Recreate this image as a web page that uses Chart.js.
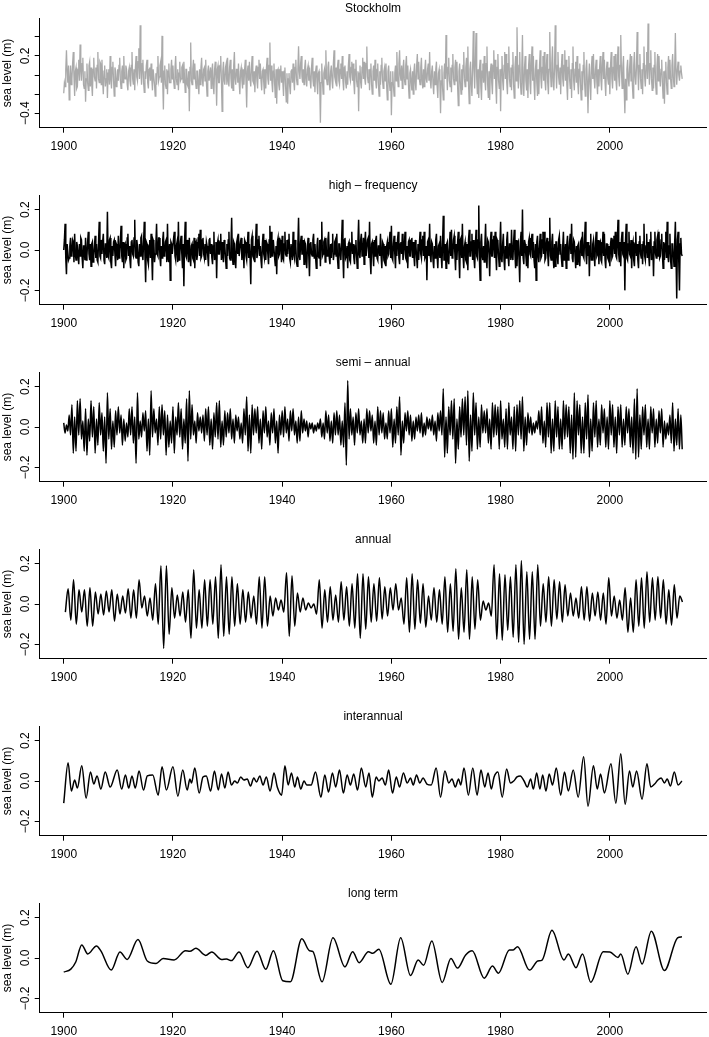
<!DOCTYPE html>
<html>
<head>
<meta charset="utf-8">
<title>Stockholm sea level components</title>
<script src="https://cdn.jsdelivr.net/npm/chart.js@4.4.1/dist/chart.umd.min.js"></script>
<style>
  html, body { margin: 0; padding: 0; background: #fff; }
  body { width: 709px; height: 1037px; overflow: hidden; position: relative; }
  .panel { position: absolute; left: 0; width: 709px; height: 177px; }
</style>
</head>
<body>
<script>
// time axis
const startYear = 1900;
const stepDense = 0.125;   // record and high-frequency: 8 readings per year
const stepSemi = 0.25;     // semi-annual: 4 turning points per year
const xTicks = [1900, 1920, 1940, 1960, 1980, 2000];

// y ticks
const yTicksTop = [-0.4, -0.2, 0, 0.2, 0.4];
const yLabelsTop = ['\u22120.4', '', '', '0.2', ''];
const yTicks = [-0.2, 0, 0.2];
const yLabels = ['\u22120.2', '0.0', '0.2'];

const titles = ['Stockholm', 'high \u2013 frequency', 'semi \u2013 annual', 'annual', 'interannual', 'long term'];

// Stockholm record (cm), 8 per year, one row per decade
const stockholmCm = [
  -19,-8,-12,6,26,4,-8,10, -26,-6,10,-10,-4,12,24,-2, -22,4,8,-14,-12,6,16,-6, 32,6,-6,12,18,-10,-14,4, -28,-4,12,-8,-16,10,14,-12,
  8,-10,-22,6,18,-2,-6,8, -14,10,24,-4,-8,14,12,-10, 16,-6,-20,4,10,-12,-4,6, -24,2,6,-10,20,-4,-14,8, 14,-6,-22,8,4,-12,-10,6,
  -6,10,18,-6,-14,4,10,-8, 20,-2,-4,10,6,-10,-16,4, 8,-6,-12,10,24,-4,-10,6, -16,8,20,-2,-6,14,28,-4, 52,6,-10,12,16,-8,-18,4,
  -4,10,16,-8,-14,6,8,-6, 12,-4,-16,6,6,-10,-22,2, -10,8,20,-6,-2,10,14,-8, 41,-6,-36,4,10,-10,-14,6, -20,4,12,-8,-8,6,16,-4,
  10,-6,-14,8,20,-4,-10,6, -16,2,14,-6,-4,8,10,-8, 14,-4,-18,6,6,-10,-12,4, -38,8,34,-6,-10,6,16,-4, 12,-6,-14,4,4,-10,-20,6,
  -10,8,18,-4,-12,6,8,-6, 16,-8,-22,4,10,-6,-6,8, -14,4,12,-10,-20,6,14,-4, -32,6,10,-8,-8,10,20,-6, -38,4,14,-6,-10,8,12,-10,
  18,-6,-12,8,16,-4,-14,6, -16,10,24,-4,-10,6,6,-8, 12,-8,-20,4,8,-6,-14,6, -10,6,16,-8,-34,4,10,-6, 14,-4,-12,8,20,-6,-8,4,
  -18,4,10,-6,-14,8,16,-4, 12,-6,-16,4,6,-8,-20,6, -14,8,18,-4,-10,10,34,-6, 10,-8,-18,4,12,-10,-24,6, -30,4,6,-10,-16,6,10,-8,
  4,-8,-22,4,8,-12,-28,2, -30,-4,2,-12,-20,4,6,-8, 12,-6,-16,8,16,-4,-10,6, 30,4,-4,12,20,-2,-8,6, -10,8,16,-4,-12,6,10,-6,
  8,-6,-14,8,18,-4,-12,4, -18,4,10,-8,-20,2,4,-10, -50,-8,12,-6,-20,2,6,-4, 26,-4,-10,8,14,-6,-16,4, 10,-6,-14,12,26,-2,-6,8,
  -12,8,16,-6,-10,6,12,-4, 20,-6,-16,8,10,-8,-14,4, -10,10,22,-2,-6,8,14,-6, 12,-8,-20,6,16,-6,-12,4, -38,2,10,-8,-14,8,18,-4,
  14,-4,-10,12,30,-2,-8,6, -16,6,12,-10,-20,4,10,-6, 16,-6,-14,6,12,-10,-22,4, -10,10,18,-6,-14,4,8,-6, 12,-10,-26,4,10,-8,-16,4,
  -42,-8,4,-12,-22,2,10,-6, 24,-2,-12,12,26,0,-6,10, -14,6,16,-4,-10,10,20,-4, 10,-10,-24,2,6,-8,-16,4, -20,4,12,-8,-16,10,22,-4,
  14,-4,-10,8,18,-6,-14,6, -12,6,16,-4,-8,6,12,-6, 24,-6,-14,4,10,-10,-20,4, -10,6,14,-12,-24,2,6,-8, -40,-6,10,-14,-26,2,12,-4,
  42,4,-16,8,18,-6,-12,8, -18,10,22,-4,-10,8,16,-6, 14,-12,-32,4,12,-8,-20,6, -16,10,24,-4,-12,8,18,-6, 30,-10,-30,6,14,-10,-22,8,
  46,6,-14,16,44,-4,-20,6, -24,6,16,-12,-26,4,12,-8, 20,-6,-16,12,30,-10,-24,4, -26,4,12,-8,-20,10,26,-4, 16,-12,-30,8,22,-6,-14,6,
  -38,6,20,-6,-16,10,24,-4, 22,-8,-20,12,30,-4,-12,8, -16,10,24,-10,-24,8,20,-6, 50,6,-14,10,24,-8,-20,6, 42,-8,-22,8,20,-6,-16,6,
  -24,10,22,-8,-20,12,30,-6, 20,-10,-26,6,16,-8,-22,6, -20,10,26,-4,-14,8,20,-6, 24,-6,-16,10,22,-8,-20,6, 45,4,-12,12,30,-4,-16,8,
  52,6,-14,10,24,-2,-10,8, -20,8,22,-4,-12,10,26,-6, 16,-10,-26,8,20,-4,-14,6, -24,12,30,-6,-16,6,14,-8, 20,-8,-20,6,12,-10,-26,4,
  -16,10,24,-8,-22,6,16,-6, -40,-4,12,-10,-26,8,20,-4, 22,-4,-14,6,16,-8,-20,6, -12,8,20,-6,-16,10,24,-4, 16,-8,-22,6,14,-4,-10,8,
  -20,10,24,-4,-14,8,20,-6, 22,-6,-16,12,30,-2,-12,10, 42,4,-14,8,20,-14,-40,-4, -26,6,16,-4,-12,8,22,-6, 20,-10,-24,10,24,-2,-10,8,
  45,6,-16,10,22,-4,-14,6, -20,12,30,-2,-12,10,24,-4, 54,8,-10,12,26,-4,-16,8, -14,10,24,-8,-20,8,22,-6, 20,-2,-12,6,16,-8,-24,4,
  -30,4,14,-8,-20,8,20,-4, 16,-4,-14,10,22,-2,-12,8, 44,4,-10,6,14,0,-6,4, 10,2,-4
];

// high-frequency component (cm), 8 per year
const highFreqCm = [
  0,5,13,-4,-12,3,3,-5, -4,2,6,-3,-2,5,4,-6, 8,-2,-5,4,2,-3,-7,3, -3,6,5,-4,-9,2,2,-5, 6,-5,-3,4,9,-2,-5,3,
  -8,3,4,-6,-3,2,7,-4, 3,-5,-6,4,14,-3,-4,5, -2,4,8,-5,-7,3,3,-4, 19,-3,-4,5,6,-6,-9,2, -3,4,5,-2,-8,3,2,-5,
  7,-4,-2,5,12,-3,-6,4, -9,2,3,-5,-4,6,8,-3, 2,-5,-9,4,5,-2,-3,6, 15,-3,-4,5,2,-6,-8,3, -3,6,7,-2,-5,4,14,-3,
  -16,4,3,-5,-7,2,5,-4, 8,-3,-15,5,4,-6,-2,3, 13,-2,-3,6,6,-4,-8,2, -4,5,9,-3,-2,4,5,-6, 13,-4,-6,3,-15,4,3,-2,
  -2,6,9,-3,-5,2,4,-6, 14,-5,-3,4,7,-2,-9,3, -18,4,14,-3,-4,5,2,-6, 6,-3,-8,2,3,-4,-5,6, -9,3,4,-5,-2,6,8,-3,
  10,-4,-3,5,6,-2,-4,3, -5,4,2,-3,-8,5,6,-2, 3,-4,-7,2,9,-5,-3,4, -14,3,5,-2,-2,4,8,-5, 4,-3,-6,5,2,-4,-9,3,
  -3,5,9,-4,-5,2,16,-3, -7,4,3,-5,-9,3,5,-2, 8,-3,-3,4,6,-5,-2,3, -9,5,4,-3,-5,2,9,-4, 3,-4,-17,5,7,-3,-4,2,
  -6,3,13,-4,-2,5,7,-3, 2,-5,-9,3,8,-2,-4,5, -5,4,3,-2,-7,5,12,-4, 9,-3,-3,5,5,-4,-8,2, -12,4,6,-3,-2,5,4,-6,
  7,-4,-5,3,9,-2,-3,5, -2,5,8,-4,-6,3,3,-5, 9,-2,-4,5,2,-6,-8,3, 16,-3,-5,4,7,-2,-2,5, -7,4,3,-5,-9,2,6,-3,
  -13,3,4,-2,-3,5,8,-4, 3,-4,-9,2,6,-3,-4,5, -8,5,14,-3,-2,4,5,-6, 6,-2,-3,5,9,-4,-7,3, -4,3,8,-5,-2,4,5,-3,
  8,-4,-9,3,3,-2,-5,4, 15,-3,-14,5,6,-4,-3,2, -9,3,4,-5,-6,3,9,-2, 3,-4,-7,2,5,-3,-9,4, 15,-2,-4,5,8,-3,-2,6,
  -7,4,9,-3,-3,5,6,-4, 14,-5,-12,3,4,-2,-8,5, -3,5,7,-4,-5,2,2,-3, 8,-3,-9,4,3,-5,-6,2, -8,2,4,-3,-2,5,9,-4,
  12,-4,-5,3,7,-2,-9,4, -3,5,9,-4,-7,3,4,-2, 8,-5,-2,3,9,-4,-5,2, -9,4,5,-3,-3,5,6,-4, 4,-3,-8,5,2,-4,-9,3,
  -5,3,9,-2,-4,5,7,-3, 9,-4,-3,2,-15,4,5,-3, 13,-3,-6,4,3,-5,-9,2, -4,5,8,-3,-9,2,3,-4, 7,-3,-9,4,17,-5,-5,3,
  -9,3,4,-5,-7,2,9,-3, 10,-4,-3,5,7,-2,-10,3, -5,4,9,-3,-14,5,6,-4, 13,-3,-9,2,4,-5,-6,3, -10,5,10,-3,-3,4,8,-5,
  5,-4,-9,2,10,-3,-4,5, 22,-5,-15,4,8,-3,-5,2, -6,3,13,-4,-9,5,4,-2, -13,4,9,-3,-3,5,7,-4, 9,-2,-10,5,4,-3,-8,3,
  14,-4,-6,3,8,-5,-10,2, -4,5,9,-3,-8,3,3,-5, 10,-3,-5,4,10,-2,-9,5, -8,3,4,-5,-16,4,9,-3, 20,-4,-7,5,3,-3,-8,2,
  -9,4,6,-2,-3,5,8,-4, 4,-5,-9,3,-15,4,7,-3, -6,2,8,-4,-3,5,9,-2, 9,-5,-4,3,6,-2,-8,4, 16,-3,-5,4,8,-4,-9,3,
  -8,4,4,-3,-7,5,7,-2, 3,-4,-8,2,9,-5,-4,3, -9,3,7,-5,-3,4,8,-2, 13,-4,-6,5,4,-3,-9,2, -7,2,3,-5,-8,4,5,-3,
  9,-3,-4,5,14,-2,-7,4, -3,4,-13,2,8,-5,-5,3, 5,-2,-8,4,9,-3,-2,5, -7,3,4,-5,-6,2,9,-3, 8,-5,-9,3,3,-4,-5,2,
  -8,3,6,-4,-3,5,7,-2, 9,-3,-4,5,15,-2,-6,4, -8,5,9,-2,-3,4,-20,5, 13,-4,-5,3,9,-2,-3,5, -9,2,4,-5,-8,3,9,-3,
  3,-5,-9,4,7,-2,-4,3, -7,4,13,-3,-5,2,8,-4, 4,-3,-8,5,9,-5,-3,2, -13,4,9,-2,-4,5,7,-3, 9,-4,-3,5,8,-2,-9,4,
  -5,3,9,-4,14,-3,-6,2, 8,-5,-9,3,3,-2,-8,4, 14,-4,-24,5,9,-6,-20,3, 6,-2,-3
];

// semi-annual: peak, trough, peak, trough each year (cm)
const semiAnnualCm = [
  2,-3,1,-2, 6,-4,11,-13, 5,-12,13,-4, 14,-6,3,-12, 9,-14,4,-7, 13,-5,10,-13, 4,-9,12,-4, 7,-12,5,-18, 17,-6,9,-11, 3,-10,8,-4,
  10,-3,6,-9, 4,-7,2,-5, 9,-4,10,-8, 5,-18,17,-6, 3,-5,7,-2, 8,-12,4,-14, 18,-5,9,-3, 4,-9,10,-6, 11,-4,8,-14, 6,-10,3,-8,
  10,-13,5,-4, 12,-5,9,-11, 4,-8,14,-17, 18,-6,11,-4, 3,-8,7,-2, 5,-3,6,-7, 9,-4,10,-9, 4,-11,7,-5, 12,-6,13,-10, 3,-9,8,-5,
  7,-3,9,-6, 4,-8,6,-2, 5,-6,2,-8, 9,-4,15,-12, 6,-13,11,-4, 9,-3,10,-8, 4,-11,8,-3, 10,-5,3,-9, 7,-3,9,-8, 3,-13,6,-4,
  8,-5,10,-3, 4,-7,8,-2, 9,-4,3,-8, 5,-7,8,-3, 4,-2,3,-5, 2,-1,2,-3, 1,-2,2,-1, 4,-5,2,-6, 8,-3,6,-7, 3,-8,7,-4,
  8,-4,6,-9, 3,-10,12,-19, 23,-6,9,-4, 5,-9,7,-3, 9,-4,3,-8, 4,-8,9,-3, 8,-2,6,-8, 3,-9,10,-4, 8,-3,7,-6, 2,-6,8,-3,
  9,-10,4,-8, 10,-4,15,-14, 3,-8,7,-2, 8,-4,6,-7, 3,-6,5,-2, 6,-3,7,-5, 2,-4,5,-1, 4,-2,6,-4, 3,-7,7,-2, 8,-4,19,-15,
  5,-13,10,-4, 13,-6,14,-18, 4,-11,10,-5, 14,-4,15,-9, 18,-17,6,-12, 17,-4,12,-11, 5,-10,11,-3, 8,-3,9,-8, 4,-11,12,-5, 11,-4,10,-11,
  13,-6,4,-10, 9,-11,12,-4, 5,-11,10,-12, 11,-4,13,-6, 15,-12,5,-9, 7,-3,5,-4, 2,-3,3,-1, 8,-4,10,-8, 3,-10,12,-5, 12,-13,4,-12,
  13,-5,10,-11, 4,-11,13,-6, 11,-5,10,-13, 6,-16,17,-15, 13,-4,11,-13, 5,-13,12,-6, 16,-15,4,-12, 12,-5,13,-10, 4,-9,11,-3, 9,-10,5,-11,
  13,-4,11,-10, 5,-13,10,-4, 11,-10,4,-9, 10,-3,9,-10, 5,-13,14,-16, 19,-15,6,-11, 10,-4,11,-10, 4,-11,10,-3, 9,-10,4,-8, 8,-3,9,-10,
  3,-6,2,-4, 6,-8,12,-12, 4,-9,9,-11, 6,-11
];

// annual cycle: yearly trough (early in the year) and peak (late in the year), cm
const annualTroughsCm = [
  -4,-8,-10,-4,-11,-11,-5,-5.5,-4,-8.5,
  -5,-4.5,-7,-7,-2,-6,-8,-10,-22,-15,
  -7,-6,-9,-17,-12,-12,-11,-10,-17,-16,
  -15,-11,-10,-9,-7,-10,-12,-11,-6,-3,
  -4,-16,-11,-4,-3,-2,-5,-12,-9,-8,
  -9,-8,-11,-12,-17,-12.5,-9,-8.5,-7.5,-6,
  -3,-3,-10,-14,-12.5,-9.5,-11.5,-8,-9,-10,
  -14,-13.5,-17.5,-14,-17.5,-12.5,-8,-3,-6,-17.5,
  -18,-13,-16.5,-19,-20,-17.5,-17.5,-11,-9,-11,
  -7.5,-9,-6,-6,-7,-8,-8.5,-6,-8,-10,
  -6,-7,-8,-14,-14,-11,-12,-9,-8,-7,
  -10,-10.5,-7,1
];
const annualPeaksCm = [
  7.5,12,7,7,8,6,5,6.5,7,5,
  4,7.5,7,12,4,3,10,19,19,8,
  4.5,6,7,17,7,12,12,13.5,19.5,13.5,
  13.5,10,7,6,4,13.5,13.5,4,3,2,
  15.5,14,5.5,3,0.5,0,12,7,8.5,4.5,
  11,8.5,10,15,15,13.5,10,13,8.5,8,
  10,3,13,15,12,10,4,8,7,13.5,
  10,17.5,8,17,13.5,12,1.5,0.5,19.5,15,
  14.5,13.5,19.5,21.5,16,16,19.5,10,13.5,12,
  11,9.5,5.5,3,8.5,8.5,5.5,6,5.5,13,
  4,2,8,3,12,13,16,13,13.5,12,
  7,9.5,4
];

// interannual: turning points (year, cm)
const interYears = [
  1900.0,1900.8,1901.4,1902.0,1902.5,1903.3,1904.1,1904.9,1905.5,1906.1,1906.8,1907.6,1908.5,1909.8,1910.6,1911.3,1911.9,1912.5,1913.1,1913.8,
  1914.6,1915.3,1916.3,1917.3,1918.0,1918.8,1920.0,1920.9,1921.8,1922.6,1923.1,1923.4,1924.0,1924.8,1925.5,1926.1,1926.9,1927.6,1928.3,1928.9,
  1929.5,1930.1,1930.7,1931.3,1931.8,1932.4,1933.0,1933.6,1934.2,1934.8,1935.3,1935.9,1936.5,1937.1,1937.8,1938.5,1939.1,1939.9,1940.5,1941.1,
  1941.7,1942.3,1942.8,1943.4,1944.0,1944.5,1945.3,1946.1,1947.1,1947.8,1948.5,1949.2,1949.8,1950.5,1951.2,1951.9,1952.5,1953.1,1953.8,1954.5,
  1955.3,1955.9,1956.5,1957.2,1957.7,1958.3,1958.9,1959.5,1960.2,1960.9,1961.5,1962.2,1962.9,1963.5,1964.0,1964.6,1965.2,1965.8,1966.5,1967.3,
  1968.2,1969.0,1969.8,1970.5,1971.1,1971.7,1972.3,1972.7,1973.3,1974.1,1974.9,1975.7,1976.4,1977.1,1977.7,1978.3,1978.8,1979.5,1980.3,1981.1,
  1981.8,1982.4,1983.0,1983.6,1984.3,1984.9,1985.5,1986.0,1986.6,1987.2,1987.7,1988.3,1988.9,1989.5,1990.2,1991.0,1991.7,1992.4,1993.3,1994.2,
  1995.2,1996.0,1997.0,1997.7,1998.3,1999.0,2000.2,2001.1,2002.0,2002.8,2003.6,2004.2,2004.9,2005.9,2006.8,2007.5,2008.2,2008.8,2009.4,2010.0,
  2010.5,2011.1,2011.8,2012.5,2013.2
];
const interCm = [
  -11,9,-5,0.5,-3.5,7.5,-8.5,4.5,-1.5,2.5,-4,4.5,-3,5.5,-4,3,-3.5,2.5,-3.5,5,
  -4.5,2.5,3,-7,7,-4.5,7,-7.5,5.5,-4.5,1,-1,6.5,-6,2,2.5,-5,5,-4.5,3.5,
  -3.5,4.5,-2,0,-1,2,0.5,1,-2.5,1.5,-0.5,2.5,-2,2,-5,4,-3,-7,7.5,-2,
  4,-3,2,-4,0,-2,-2,4.5,-8,3,-5.5,4,-3,5.5,-6,3,-2,3.5,-4.5,6.5,
  -3,4,-8,2,0,1.5,-2,5.5,-6,2,-3,4,-1,1.5,-2,3,-1,1.5,-1.5,-2,
  6.5,-8,5,-1,1,-3,1,-2,6.5,-7,6.5,-7,5.5,-3,4,-4,2,4.5,-8,6,
  -1,0,2,2.5,0,-3,1,-4,4,-4,3,-5,3.5,-2,6.5,-7,4.5,-5,5.5,-8,
  12,-12.5,7.5,-4,3.5,-6,8.5,-11,13.5,-11.5,5,-3,5,-9,8.5,-3,-1.5,0.5,1.5,-1,
  1,-2.5,4.5,-2,0
];

// long term: turning points (year, cm)
const longYears = [
  1900.0,1901.3,1902.2,1903.3,1904.4,1906.0,1906.8,1908.7,1910.3,1911.6,1913.6,1915.3,1916.9,1918.2,1920.2,1922.3,1923.1,1924.2,1926.0,1927.1,
  1928.9,1929.8,1930.7,1932.1,1933.7,1935.4,1937.0,1938.4,1940.1,1941.5,1943.6,1945.0,1945.6,1947.3,1949.3,1951.5,1952.9,1954.1,1955.8,1956.6,
  1957.7,1959.9,1961.7,1963.5,1964.9,1965.9,1967.4,1969.3,1970.9,1972.1,1973.6,1974.8,1977.0,1978.5,1979.6,1981.6,1982.3,1983.1,1985.3,1986.8,
  1987.6,1989.4,1991.6,1992.4,1993.8,1995.0,1996.5,1998.8,2000.0,2001.5,2002.0,2003.3,2004.8,2005.9,2007.6,2010.0,2012.4,2013.2
];
const longCm = [
  -7,-5.5,-2,6.5,2,6,3.5,-6,3,-0.7,9.2,-1.5,-2.7,-0.3,-1,3.6,3.3,4.8,1.3,3,
  -0.7,-0.5,-1.3,3,-4.8,3.4,-5.6,3.6,-11.3,-11.8,9.5,3.6,3.3,-11.8,10,-4.4,3.1,-2.3,3.1,2.3,
  4.3,-13,10,-8.7,-1,-3.6,8.4,-12.1,-0.2,-5,1.5,3.6,-10,-4,-7.5,4,4,5.6,-6,-1.5,
  -1,13.8,-1,2,-4.8,2,-12,3.1,3,0.3,2,-8,5.6,-3,13.3,-6.2,10,10.5
];

// ---- build point lists for the library ----
function evenSeries(cm, step) {
  return cm.map((v, i) => ({ x: startYear + i * step, y: v / 100 }));
}
function annualSeries() {
  const pts = [];
  annualTroughsCm.forEach((t, i) => {
    pts.push({ x: startYear + i + 0.3, y: t / 100 });
    if (i < annualPeaksCm.length) pts.push({ x: startYear + i + 0.8, y: annualPeaksCm[i] / 100 });
  });
  return pts;
}
function pairedSeries(years, cm) {
  return years.map((yr, i) => ({ x: yr, y: cm[i] / 100 }));
}

Chart.defaults.font.family = "'Liberation Sans', Arial, Helvetica, sans-serif";
Chart.defaults.font.size = 12;
Chart.defaults.color = '#000';

const panels = [
  { data: evenSeries(stockholmCm, stepDense), color: '#aaaaaa', width: 1.3, smooth: false, range: [-0.551, 0.594], ticks: yTicksTop, labels: yLabelsTop },
  { data: evenSeries(highFreqCm, stepDense), color: '#000000', width: 1.5, smooth: false, range: [-0.271, 0.271], ticks: yTicks, labels: yLabels },
  { data: evenSeries(semiAnnualCm, stepSemi), color: '#000000', width: 1.5, smooth: true, range: [-0.271, 0.271], ticks: yTicks, labels: yLabels },
  { data: annualSeries(), color: '#000000', width: 1.5, smooth: true, range: [-0.271, 0.271], ticks: yTicks, labels: yLabels },
  { data: pairedSeries(interYears, interCm), color: '#000000', width: 1.5, smooth: true, range: [-0.271, 0.271], ticks: yTicks, labels: yLabels },
  { data: pairedSeries(longYears, longCm), color: '#000000', width: 1.5, smooth: true, range: [-0.271, 0.271], ticks: yTicks, labels: yLabels }
];

const axisGrid = { drawOnChartArea: false, drawTicks: true, tickLength: 5, tickColor: '#000', tickWidth: 1 };
const axisBorder = { display: true, color: '#000', width: 1 };

panels.forEach((p, k) => {
  const div = document.createElement('div');
  div.className = 'panel';
  div.style.top = (177 * k) + 'px';
  const canvas = document.createElement('canvas');
  canvas.width = 709;
  canvas.height = 177;
  div.appendChild(canvas);
  document.body.appendChild(div);

  new Chart(canvas.getContext('2d'), {
    type: 'line',
    data: {
      datasets: [{
        data: p.data,
        borderColor: p.color,
        borderWidth: p.width,
        pointRadius: 0,
        fill: false,
        tension: 0,
        cubicInterpolationMode: p.smooth ? 'monotone' : 'default'
      }]
    },
    options: {
      responsive: false,
      animation: false,
      parsing: false,
      normalized: true,
      events: [],
      layout: { padding: { left: 0, right: 2.5, top: 0, bottom: 0 } },
      plugins: {
        legend: { display: false },
        tooltip: { enabled: false },
        title: {
          display: true,
          text: titles[k],
          fullSize: false,
          color: '#000',
          font: { size: 12, weight: 'normal' },
          padding: { top: 1, bottom: 2.9 }
        }
      },
      scales: {
        x: {
          type: 'linear',
          min: 1895.6,
          max: 2017.7,
          bounds: 'data',
          afterBuildTicks: s => { s.ticks = xTicks.map(v => ({ value: v })); },
          afterFit: s => { s.height = 49.3; },
          ticks: { autoSkip: false, maxRotation: 0, padding: 7, color: '#000', callback: v => String(v) },
          grid: axisGrid,
          border: axisBorder
        },
        y: {
          type: 'linear',
          min: p.range[0],
          max: p.range[1],
          bounds: 'data',
          afterBuildTicks: s => { s.ticks = p.ticks.map(v => ({ value: v })); },
          afterFit: s => { s.width = 39.7; },
          title: { display: true, text: 'sea level (m)', color: '#000', font: { size: 12 }, padding: { top: 0, bottom: 0 } },
          ticks: {
            autoSkip: false,
            minRotation: 90,
            maxRotation: 90,
            crossAlign: 'center',
            padding: -3,
            color: '#000',
            callback: (v, i) => p.labels[i]
          },
          grid: axisGrid,
          border: axisBorder
        }
      }
    }
  });
});
</script>
</body>
</html>
